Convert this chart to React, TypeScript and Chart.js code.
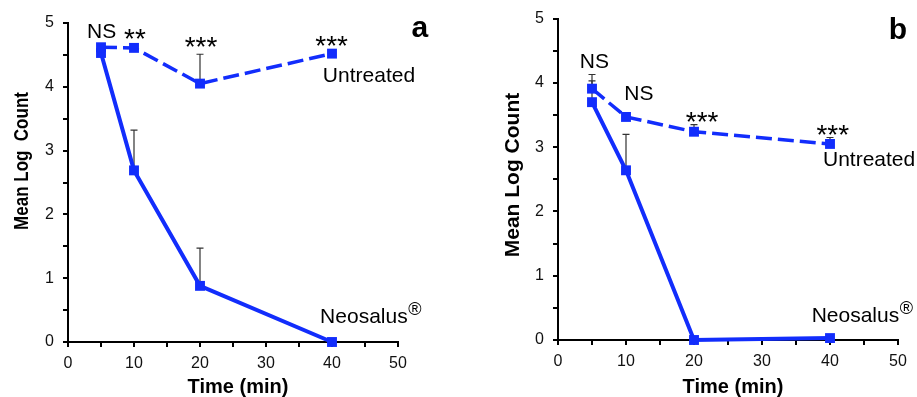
import React, { useEffect, useRef } from 'react';
import { Chart, registerables } from 'chart.js';

Chart.register(...registerables);

// ---- data ----
const times = [5, 10, 20, 40];

const untreatedA = [4.62, 4.61, 4.05, 4.52];
const untreatedErrA = [0, 0, 0.46, 0];
const neosalusA = [4.53, 2.69, 0.88, 0];
const neosalusErrA = [0, 0.63, 0.59, 0];
const signifA = ['NS', '**', '***', '***'];

const untreatedB = [3.91, 3.47, 3.24, 3.05];
const untreatedErrB = [0.22, 0, 0.11, 0.1];
const neosalusB = [3.7, 2.64, 0, 0.03];
const neosalusErrB = [0.33, 0.56, 0, 0];
const signifB = ['NS', 'NS', '***', '***'];

const xMin = 0;
const xMax = 50;
const xStep = 5;
const yMin = 0;
const yMax = 5;
const yStep = 0.5;

const xTitle = 'Time (min)';
const yTitleA = 'Mean Log  Count';
const yTitleB = 'Mean Log Count';

// ---- styles ----
const BLUE = 'rgb(18, 45, 252)';
const FONT = '"Liberation Sans", Arial, Helvetica, sans-serif';

type Ann = { text: string; x: number; y: number; size: number; bold?: boolean; align?: CanvasTextAlign; reg?: boolean };
type Titles = { yText: string; yX: number; yY: number; ySize: number; yStretch: number; xText: string; xX: number; xY: number; xSize: number };

type PanelCfg = {
  untreated: number[];
  untreatedErr: number[];
  neosalus: number[];
  neosalusErr: number[];
  padLeft: number;
  padRight: number;
  padTop: number;
  yWidth: number;
  xHeight: number;
  anns: Ann[];
  titles: Titles;
};

const errorPlugin = {
  id: 'errorBars',
  beforeDatasetsDraw(chart: any) {
    const { ctx, scales } = chart;
    const xs = scales.x;
    const ys = scales.y;
    ctx.save();
    ctx.strokeStyle = '#333';
    ctx.lineWidth = 1.2;
    chart.data.datasets.forEach((ds: any) => {
      const errs: number[] = ds.errors || [];
      ds.data.forEach((p: any, i: number) => {
        const e = errs[i];
        if (!e) return;
        const px = xs.getPixelForValue(p.x);
        const y0 = ys.getPixelForValue(p.y);
        const y1 = ys.getPixelForValue(p.y + e);
        ctx.beginPath();
        ctx.moveTo(px, y0);
        ctx.lineTo(px, y1);
        ctx.moveTo(px - 3.5, y1);
        ctx.lineTo(px + 3.5, y1);
        ctx.stroke();
      });
    });
    ctx.restore();
  },
};

const annPlugin = {
  id: 'annotations',
  afterDatasetsDraw(chart: any) {
    const opts = chart.options.plugins.annotations || {};
    const anns: Ann[] = opts.items || [];
    const t: Titles = opts.titles;
    const { ctx, scales } = chart;
    ctx.save();
    ctx.fillStyle = '#000';
    ctx.textBaseline = 'alphabetic';
    anns.forEach((a) => {
      const px = scales.x.getPixelForValue(a.x);
      const py = scales.y.getPixelForValue(a.y);
      ctx.font = `${a.bold ? 'bold ' : ''}${a.size}px ${FONT}`;
      ctx.textAlign = a.align || 'center';
      ctx.fillText(a.text, px, py);
      if (a.reg) {
        const w = ctx.measureText(a.text).width;
        ctx.textAlign = 'left';
        ctx.font = `18px ${FONT}`;
        ctx.fillText('®', px + w + 0.5, py - 8);
      }
    });
    if (t) {
      // x axis title
      ctx.font = `bold ${t.xSize}px ${FONT}`;
      ctx.textAlign = 'center';
      ctx.textBaseline = 'alphabetic';
      ctx.fillText(t.xText, t.xX, t.xY);
      // y axis title (rotated)
      ctx.save();
      ctx.translate(t.yX, t.yY);
      ctx.rotate(-Math.PI / 2);
      ctx.scale(1, t.yStretch);
      ctx.font = `bold ${t.ySize}px ${FONT}`;
      ctx.textAlign = 'center';
      ctx.fillText(t.yText, 0, 0);
      ctx.restore();
    }
    ctx.restore();
  },
};

function makeChart(canvas: HTMLCanvasElement, cfg: PanelCfg) {
  const pts = (vals: number[]) => times.map((t, i) => ({ x: t, y: vals[i] }));
  const tickFont = { family: FONT, size: 16 };
  return new Chart(canvas, {
    type: 'line',
    data: {
      datasets: [
        {
          label: 'Untreated',
          data: pts(cfg.untreated),
          borderColor: BLUE,
          backgroundColor: BLUE,
          borderWidth: 3.5,
          borderDash: [16, 6],
          pointStyle: 'rect',
          pointRadius: 7,
          pointBorderWidth: 0,
          pointBackgroundColor: BLUE,
          clip: false,
          errors: cfg.untreatedErr,
        } as any,
        {
          label: 'Neosalus',
          data: pts(cfg.neosalus),
          borderColor: BLUE,
          backgroundColor: BLUE,
          borderWidth: 4,
          pointStyle: 'rect',
          pointRadius: 7,
          pointBorderWidth: 0,
          pointBackgroundColor: BLUE,
          clip: false,
          errors: cfg.neosalusErr,
        } as any,
      ],
    },
    options: {
      responsive: false,
      animation: false,
      layout: { padding: { left: cfg.padLeft, right: cfg.padRight, top: cfg.padTop, bottom: 0 } },
      plugins: {
        legend: { display: false },
        tooltip: { enabled: false },
        annotations: { items: cfg.anns, titles: cfg.titles },
      } as any,
      scales: {
        x: {
          type: 'linear',
          min: xMin,
          max: xMax,
          ticks: {
            stepSize: xStep,
            autoSkip: false,
            maxRotation: 0,
            padding: 7,
            color: '#111',
            font: tickFont,
            callback: (v: any) => (Number(v) % 10 === 0 ? String(v) : ''),
          },
          grid: { drawOnChartArea: false, drawTicks: true, tickLength: 5, color: '#000', lineWidth: 2 },
          border: { color: '#000', width: 2 },
          title: { display: false },
          afterFit: (s: any) => {
            s.height = cfg.xHeight;
          },
        },
        y: {
          type: 'linear',
          min: yMin,
          max: yMax,
          ticks: {
            stepSize: yStep,
            autoSkip: false,
            padding: 9,
            color: '#111',
            font: tickFont,
            callback: (v: any) => (Number.isInteger(Number(v)) ? String(v) : ''),
          },
          grid: { drawOnChartArea: false, drawTicks: true, tickLength: 5, color: '#000', lineWidth: 2 },
          border: { color: '#000', width: 2 },
          title: { display: false },
          afterFit: (s: any) => {
            s.width = cfg.yWidth;
          },
        },
      },
    } as any,
    plugins: [errorPlugin, annPlugin],
  });
}

const panelA: PanelCfg = {
  untreated: untreatedA,
  untreatedErr: untreatedErrA,
  neosalus: neosalusA,
  neosalusErr: neosalusErrA,
  padLeft: 11,
  padRight: 60,
  padTop: 23,
  yWidth: 57,
  xHeight: 55,
  titles: { yText: yTitleA, yX: 28, yY: 161, ySize: 17, yStretch: 1.2, xText: xTitle, xX: 238, xY: 393, xSize: 20 },
  anns: [
    { text: signifA[0], x: 5.1, y: 4.76, size: 21 },
    { text: signifA[1], x: 10.15, y: 4.61, size: 28 },
    { text: signifA[2], x: 20.15, y: 4.48, size: 28 },
    { text: signifA[3], x: 39.95, y: 4.5, size: 28 },
    { text: 'Untreated', x: 45.6, y: 4.075, size: 21 },
    { text: 'Neosalus', x: 38.2, y: 0.29, size: 21, align: 'left', reg: true },
    { text: 'a', x: 53.3, y: 4.78, size: 30, bold: true },
  ],
};

const panelB: PanelCfg = {
  untreated: untreatedB,
  untreatedErr: untreatedErrB,
  neosalus: neosalusB,
  neosalusErr: neosalusErrB,
  padLeft: 41,
  padRight: 19,
  padTop: 17,
  yWidth: 59,
  xHeight: 57,
  titles: { yText: yTitleB, yX: 61, yY: 175, ySize: 21, yStretch: 1.0, xText: xTitle, xX: 275, xY: 393, xSize: 20 },
  anns: [
    { text: signifB[0], x: 5.34, y: 4.23, size: 21 },
    { text: signifB[1], x: 11.9, y: 3.73, size: 21 },
    { text: signifB[2], x: 21.2, y: 3.25, size: 28 },
    { text: signifB[3], x: 40.4, y: 3.045, size: 28 },
    { text: 'Untreated', x: 45.75, y: 2.7, size: 21 },
    { text: 'Neosalus', x: 37.3, y: 0.28, size: 21, align: 'left', reg: true },
    { text: 'b', x: 50.0, y: 4.69, size: 30, bold: true },
  ],
};

export default function App() {
  const refA = useRef<HTMLCanvasElement>(null);
  const refB = useRef<HTMLCanvasElement>(null);
  useEffect(() => {
    const a = makeChart(refA.current!, panelA);
    const b = makeChart(refB.current!, panelB);
    return () => {
      a.destroy();
      b.destroy();
    };
  }, []);
  return (
    <div style={{ position: 'fixed', left: 0, top: 0, width: 917, height: 397, background: '#fff' }}>
      <canvas ref={refA} width={458} height={397} style={{ position: 'absolute', left: 0, top: 0, width: 458, height: 397 }} />
      <canvas ref={refB} width={459} height={397} style={{ position: 'absolute', left: 458, top: 0, width: 459, height: 397 }} />
    </div>
  );
}
